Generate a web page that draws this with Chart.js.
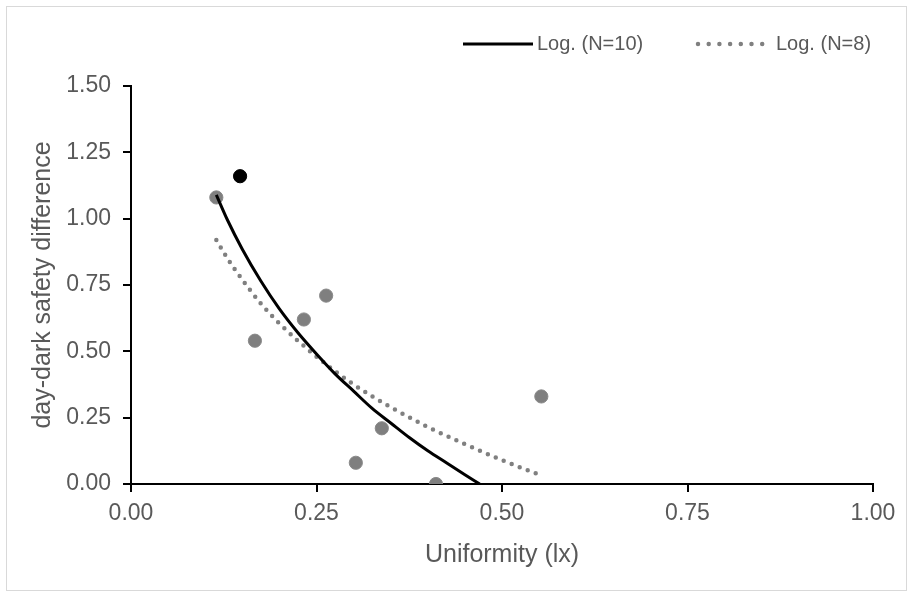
<!DOCTYPE html>
<html>
<head>
<meta charset="utf-8">
<script src="https://cdn.jsdelivr.net/npm/chart.js@4.4.1/dist/chart.umd.min.js"></script>
<style>
  html, body { margin: 0; padding: 0; background: #fff; }
  #wrap { width: 910px; height: 595px; position: relative; }
</style>
</head>
<body>
<div id="wrap"><canvas id="chart"></canvas></div>
<script>
// measured points: uniformity (lx) vs day-dark safety difference
const uniformity = [0.115, 0.167, 0.233, 0.263, 0.303, 0.338, 0.411, 0.553];
const safetyDiff = [1.08, 0.54, 0.62, 0.71, 0.08, 0.21, 0.00, 0.33];
// the extra (black) point, only part of the N=10 fit
const extraX = [0.147];
const extraY = [1.16];

// log trend lines
const trend10X = [0.115, 0.13, 0.15, 0.175, 0.2, 0.225, 0.25, 0.275, 0.3, 0.325, 0.35, 0.375, 0.4, 0.425, 0.45, 0.47];
const trend10Y = [1.09, 0.995, 0.885, 0.765, 0.66, 0.57, 0.49, 0.415, 0.35, 0.285, 0.23, 0.175, 0.125, 0.08, 0.035, 0.0];
const trend8X = [0.115, 0.13, 0.15, 0.175, 0.2, 0.25, 0.3, 0.35, 0.4, 0.45, 0.5, 0.55];
const trend8Y = [0.92, 0.85, 0.77, 0.68, 0.605, 0.48, 0.375, 0.29, 0.215, 0.15, 0.09, 0.035];

const labels = ['Log. (N=10)', 'Log. (N=8)'];

function toXY(xs, ys) {
    return xs.map((x, i) => ({ x: x, y: ys[i] }));
}

const textGray = '#595959';
const FONT = "'Liberation Sans', Arial, sans-serif";

// white background + thin grey frame like the original export
const framePlugin = {
    id: 'frame',
    beforeDraw(chart) {
        const ctx = chart.ctx;
        ctx.save();
        ctx.fillStyle = '#fff';
        ctx.fillRect(0, 0, chart.width, chart.height);
        ctx.strokeStyle = '#d9d9d9';
        ctx.lineWidth = 1;
        ctx.strokeRect(6.5, 6.5, 900, 584);
        ctx.restore();
    }
};

// legend for the two trend lines only, top right (Excel style)
const legendSlots = [
    { x0: 463, x1: 533, textX: 537, dash: [] },
    { x0: 698, x1: 763, textX: 776, dash: [0, 10.7] }
];
const trendLegend = {
    id: 'trendLegend',
    afterDraw(chart) {
        const ctx = chart.ctx;
        const y = 44;
        legendSlots.forEach((slot, i) => {
            const ds = chart.data.datasets[i];
            ctx.save();
            ctx.strokeStyle = ds.borderColor;
            ctx.lineWidth = ds.borderWidth;
            ctx.lineCap = ds.borderCapStyle || 'butt';
            ctx.setLineDash(slot.dash);
            ctx.beginPath();
            ctx.moveTo(slot.x0, y);
            ctx.lineTo(slot.x1, y);
            ctx.stroke();
            ctx.setLineDash([]);
            ctx.fillStyle = textGray;
            ctx.font = '20px ' + FONT;
            ctx.textBaseline = 'middle';
            ctx.textAlign = 'left';
            ctx.fillText(ds.label, slot.textX, y);
            ctx.restore();
        });
    }
};

const ctx = document.getElementById('chart').getContext('2d');
new Chart(ctx, {
    type: 'scatter',
    data: {
        datasets: [
            {
                type: 'line',
                label: labels[0],
                data: toXY(trend10X, trend10Y),
                borderColor: '#000',
                borderWidth: 3,
                pointRadius: 0,
                cubicInterpolationMode: 'monotone',
                fill: false
            },
            {
                type: 'line',
                label: labels[1],
                data: toXY(trend8X, trend8Y),
                borderColor: '#808080',
                borderWidth: 4.5,
                borderDash: [0, 8.6],
                borderCapStyle: 'round',
                pointRadius: 0,
                cubicInterpolationMode: 'monotone',
                fill: false
            },
            {
                label: 'points',
                data: toXY(uniformity, safetyDiff),
                backgroundColor: '#7f7f7f',
                borderColor: '#8a8a8a',
                borderWidth: 1,
                pointRadius: 6.6,
                pointHoverRadius: 6.6
            },
            {
                label: 'extra',
                data: toXY(extraX, extraY),
                backgroundColor: '#000',
                borderColor: '#000',
                borderWidth: 1,
                pointRadius: 6.6,
                pointHoverRadius: 6.6
            }
        ]
    },
    options: {
        responsive: true,
        maintainAspectRatio: false,
        animation: false,
        layout: {
            padding: { left: 24, right: 37, top: 86, bottom: 21 }
        },
        plugins: {
            legend: { display: false },
            tooltip: { enabled: false }
        },
        scales: {
            x: {
                type: 'linear',
                min: 0,
                max: 1,
                ticks: {
                    stepSize: 0.25,
                    padding: 8,
                    color: textGray,
                    font: { family: FONT, size: 23 },
                    callback: (v) => v.toFixed(2)
                },
                grid: {
                    drawOnChartArea: false,
                    drawTicks: true,
                    tickLength: 8,
                    color: '#000',
                    lineWidth: 2
                },
                border: { display: true, color: '#000', width: 2 },
                title: {
                    display: true,
                    text: 'Uniformity (lx)',
                    color: textGray,
                    font: { family: FONT, size: 25 }
                },
                afterFit: (scale) => { scale.height = 90; }
            },
            y: {
                type: 'linear',
                min: 0,
                max: 1.5,
                ticks: {
                    stepSize: 0.25,
                    padding: 12,
                    color: textGray,
                    font: { family: FONT, size: 23 },
                    callback: (v) => v.toFixed(2)
                },
                grid: {
                    drawOnChartArea: false,
                    drawTicks: true,
                    tickLength: 8,
                    color: '#000',
                    lineWidth: 2
                },
                border: { display: true, color: '#000', width: 2 },
                title: {
                    display: true,
                    text: 'day-dark safety difference',
                    color: textGray,
                    font: { family: FONT, size: 25 }
                },
                afterFit: (scale) => { scale.width = 107; }
            }
        }
    },
    plugins: [framePlugin, trendLegend]
});
</script>
</body>
</html>
